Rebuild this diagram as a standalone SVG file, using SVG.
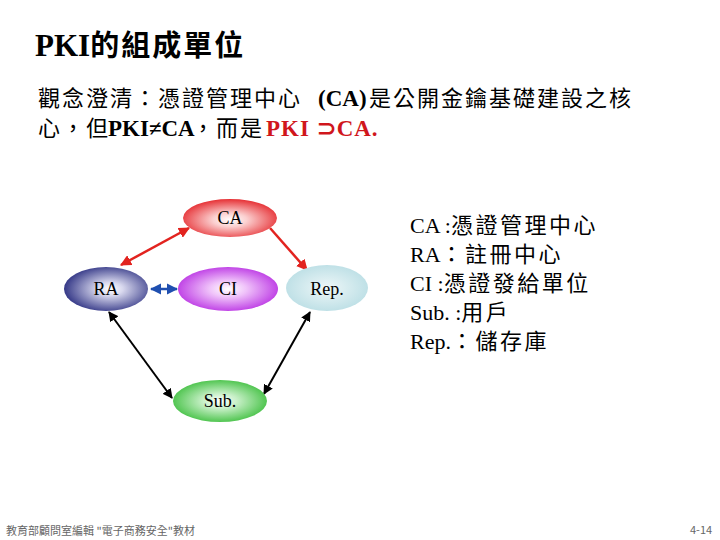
<svg xmlns="http://www.w3.org/2000/svg" width="720" height="540" viewBox="0 0 720 540">
<style>
.tm{font-family:"Liberation Serif",serif}
.node text{font-family:"Liberation Serif",serif;font-size:18px;text-anchor:middle;fill:#000}
.node ellipse{stroke:none}
.foot{font-family:"Noto Sans CJK TC",sans-serif;font-size:11px;fill:#666}
</style>
<defs>
<radialGradient id="gCA" cx="0.5" cy="0.55" r="0.6"><stop offset="0" stop-color="#ffffff"/><stop offset="0.3" stop-color="#fbd0d0"/><stop offset="1" stop-color="#e31a1f"/></radialGradient>
<radialGradient id="gRA" cx="0.55" cy="0.5" r="0.6"><stop offset="0" stop-color="#ffffff"/><stop offset="0.25" stop-color="#d8d8ee"/><stop offset="1" stop-color="#20247a"/></radialGradient>
<radialGradient id="gCI" cx="0.5" cy="0.5" r="0.6"><stop offset="0" stop-color="#ffffff"/><stop offset="0.3" stop-color="#f0c4fa"/><stop offset="1" stop-color="#b21ee0"/></radialGradient>
<radialGradient id="gRep" cx="0.5" cy="0.5" r="0.6"><stop offset="0" stop-color="#eef7f8"/><stop offset="1" stop-color="#b6dce3"/></radialGradient>
<radialGradient id="gSub" cx="0.5" cy="0.5" r="0.6"><stop offset="0" stop-color="#ffffff"/><stop offset="0.3" stop-color="#c8f0c8"/><stop offset="1" stop-color="#2cb82c"/></radialGradient>
<marker id="mR" viewBox="0 0 10 10" refX="9" refY="5" markerWidth="4.5" markerHeight="4.5" orient="auto-start-reverse"><path d="M0,0 L10,5 L0,10 z" fill="#e2231f"/></marker>
<marker id="mB" viewBox="0 0 10 10" refX="9" refY="5" markerWidth="4.5" markerHeight="4.5" orient="auto-start-reverse"><path d="M0,0 L10,5 L0,10 z" fill="#1f4fb0"/></marker>
<marker id="mK" viewBox="0 0 10 10" refX="9" refY="5" markerWidth="5" markerHeight="5" orient="auto-start-reverse"><path d="M0,0 L10,5 L0,10 z" fill="#000"/></marker>
</defs>
<rect width="720" height="540" fill="#fff"/>

<g id="title">
<text x="35" y="56" font-weight="bold" fill="#000"><tspan class="tm" font-size="31">PKI</tspan><tspan font-size="29" font-family="Noto Sans CJK TC,sans-serif" letter-spacing="2">的組成單位</tspan></text>
</g>

<g id="body" fill="#000">
<text y="106"><tspan x="38" font-family="Noto Sans CJK TC,sans-serif" font-size="22" letter-spacing="2">觀念澄清：憑證管理中心</tspan><tspan x="318" font-family="Liberation Serif,serif" font-size="23" font-weight="bold">(CA)</tspan><tspan x="369" font-family="Noto Sans CJK TC,sans-serif" font-size="22" letter-spacing="2">是公開金鑰基礎建設之核</tspan></text>
<text y="136"><tspan x="38" font-family="Noto Sans CJK TC,sans-serif" font-size="22" letter-spacing="2">心，但</tspan><tspan x="108" font-family="Liberation Serif,serif" font-size="23" font-weight="bold">PKI≠CA</tspan><tspan x="192" font-family="Noto Sans CJK TC,sans-serif" font-size="22" letter-spacing="2">，而是</tspan><tspan x="266" font-family="Liberation Serif,serif" font-size="23" font-weight="bold" fill="#d0161c" letter-spacing="1">PKI ⊃CA.</tspan></text>
</g>

<g id="connectors" fill="none" stroke-width="2.5">
<line x1="189" y1="228" x2="121" y2="265" stroke="#e2231f" marker-start="url(#mR)" marker-end="url(#mR)"/>
<line x1="270" y1="228" x2="307" y2="270" stroke="#e2231f" marker-end="url(#mR)"/>
<line x1="151" y1="289" x2="177" y2="289" stroke="#1f4fb0" marker-start="url(#mB)" marker-end="url(#mB)"/>
<line x1="109" y1="312" x2="172" y2="398" stroke="#000" stroke-width="2" marker-start="url(#mK)" marker-end="url(#mK)"/>
<line x1="310" y1="312" x2="264" y2="394" stroke="#000" stroke-width="2" marker-start="url(#mK)" marker-end="url(#mK)"/>
</g>

<g id="CA" class="node"><ellipse cx="230" cy="218" rx="47" ry="19" fill="url(#gCA)"/><text x="230" y="224">CA</text></g>
<g id="RA" class="node"><ellipse cx="106" cy="289" rx="42" ry="22" fill="url(#gRA)"/><text x="106" y="295">RA</text></g>
<g id="CI" class="node"><ellipse cx="228" cy="289" rx="50" ry="22" fill="url(#gCI)"/><text x="228" y="295">CI</text></g>
<g id="Rep" class="node"><ellipse cx="327" cy="288" rx="41" ry="23" fill="url(#gRep)"/><text x="327" y="295">Rep.</text></g>
<g id="Sub" class="node"><ellipse cx="220" cy="401" rx="47" ry="21" fill="url(#gSub)"/><text x="220" y="407">Sub.</text></g>

<g id="legend" fill="#000" font-size="22">
<text y="233"><tspan x="410" font-family="Liberation Serif,serif">CA :</tspan><tspan font-family="Noto Sans CJK TC,sans-serif" letter-spacing="2.5">憑證管理中心</tspan></text>
<text y="262"><tspan x="410" font-family="Liberation Serif,serif">RA</tspan><tspan font-family="Noto Sans CJK TC,sans-serif" letter-spacing="2.5">：註冊中心</tspan></text>
<text y="291"><tspan x="410" font-family="Liberation Serif,serif">CI :</tspan><tspan font-family="Noto Sans CJK TC,sans-serif" letter-spacing="2.5">憑證發給單位</tspan></text>
<text y="320"><tspan x="410" font-family="Liberation Serif,serif">Sub. :</tspan><tspan font-family="Noto Sans CJK TC,sans-serif" letter-spacing="2.5">用戶</tspan></text>
<text y="349"><tspan x="410" font-family="Liberation Serif,serif">Rep.</tspan><tspan font-family="Noto Sans CJK TC,sans-serif" letter-spacing="2.5">：儲存庫</tspan></text>
</g>

<g id="footer">
<text class="foot" x="6" y="535">教育部顧問室編輯 "電子商務安全"教材</text>
<text class="foot" x="690" y="534">4-14</text>
</g>
</svg>
